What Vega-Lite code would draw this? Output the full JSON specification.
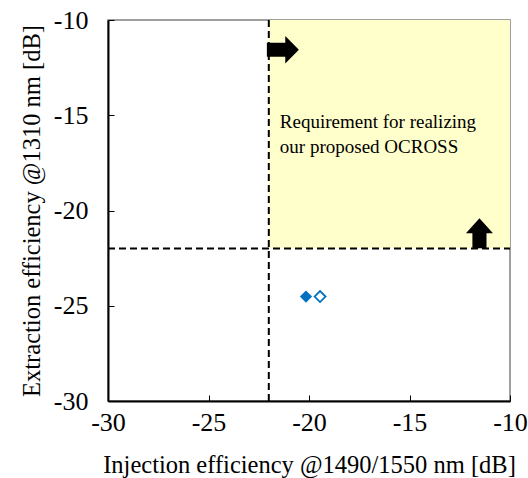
{
  "$schema": "https://vega.github.io/schema/vega-lite/v6.json",
  "autosize": "none",
  "width": 402,
  "height": 381,
  "padding": {"left": 108, "top": 20, "right": 18, "bottom": 77},
  "background": "white",
  "config": {
    "font": "Liberation Serif",
    "view": {"stroke": "#808080", "strokeWidth": 1.5},
    "axis": {"grid": false, "domainColor": "black", "domainWidth": 2, "tickColor": "black", "tickWidth": 1, "labelColor": "black", "titleColor": "black", "labelFont": "Liberation Serif", "titleFont": "Liberation Serif", "titleFontWeight": "normal", "labelFontSize": 26, "titleFontSize": 24.5}
  },
  "datasets": {
    "points": [
      {"inj": -20.15, "ext": -24.52, "type": "filled"},
      {"inj": -19.45, "ext": -24.52, "type": "open"}
    ],
    "region": [{"x1": -22, "x2": -10, "y1": -22, "y2": -10}],
    "vline": [{"x": -22, "y1": -30, "y2": -10}],
    "hline": [{"y": -22, "x1": -30, "x2": -10}],
    "arrows": [
      {"x": -21.3, "y": -11.56, "dir": "right"},
      {"x": -11.52, "y": -21.2, "dir": "up"}
    ],
    "labels": [
      {"x": -21.45, "y": -15.67, "text": "Requirement for realizing"},
      {"x": -21.45, "y": -16.98, "text": "our proposed OCROSS"}
    ]
  },
  "layer": [
    {
      "data": {"name": "region"},
      "mark": {"type": "rect", "color": "#FFFFCC"},
      "encoding": {
        "x": {"field": "x1", "type": "quantitative", "scale": {"domain": [-30, -10], "nice": false, "zero": false},
          "axis": {"title": "Injection efficiency @1490/1550 nm [dB]", "values": [-30, -25, -20, -15, -10], "labelExpr": "'' + datum.value", "tickSize": -6, "labelPadding": 14, "titlePadding": 18, "labelFlush": false}},
        "x2": {"field": "x2"},
        "y": {"field": "y1", "type": "quantitative", "scale": {"domain": [-30, -10], "nice": false, "zero": false},
          "axis": {"title": "Extraction efficiency @1310 nm [dB]", "values": [-30, -25, -20, -15, -10], "labelExpr": "'' + datum.value", "tickSize": -6, "labelPadding": 26, "titlePadding": 9, "labelFlush": false}},
        "y2": {"field": "y2"}
      }
    },
    {
      "data": {"name": "vline"},
      "mark": {"type": "rule", "color": "black", "strokeWidth": 2, "strokeDash": [7, 4]},
      "encoding": {
        "x": {"field": "x", "type": "quantitative"},
        "y": {"field": "y1", "type": "quantitative"},
        "y2": {"field": "y2"}
      }
    },
    {
      "data": {"name": "hline"},
      "mark": {"type": "rule", "color": "black", "strokeWidth": 2, "strokeDash": [7, 4]},
      "encoding": {
        "y": {"field": "y", "type": "quantitative"},
        "x": {"field": "x1", "type": "quantitative"},
        "x2": {"field": "x2"}
      }
    },
    {
      "data": {"name": "arrows"},
      "transform": [{"filter": "datum.dir === 'right'"}],
      "mark": {"type": "point", "filled": true, "color": "black", "opacity": 1, "size": 1024, "shape": "M-1,-0.44 L0.15,-0.44 L0.15,-0.86 L1,0 L0.15,0.86 L0.15,0.44 L-1,0.44 Z"},
      "encoding": {
        "x": {"field": "x", "type": "quantitative"},
        "y": {"field": "y", "type": "quantitative"}
      }
    },
    {
      "data": {"name": "arrows"},
      "transform": [{"filter": "datum.dir === 'up'"}],
      "mark": {"type": "point", "filled": true, "color": "black", "opacity": 1, "size": 900, "shape": "M-0.47,1 L-0.47,-0.0 L-0.9,-0.0 L0,-1 L0.9,-0.0 L0.47,-0.0 L0.47,1 Z"},
      "encoding": {
        "x": {"field": "x", "type": "quantitative"},
        "y": {"field": "y", "type": "quantitative"}
      }
    },
    {
      "data": {"name": "labels"},
      "mark": {"type": "text", "align": "left", "baseline": "alphabetic", "fontSize": 19, "font": "Liberation Serif", "color": "black"},
      "encoding": {
        "x": {"field": "x", "type": "quantitative"},
        "y": {"field": "y", "type": "quantitative"},
        "text": {"field": "text"}
      }
    },
    {
      "data": {"name": "points"},
      "transform": [{"filter": "datum.type === 'filled'"}],
      "mark": {"type": "point", "shape": "diamond", "filled": true, "color": "#0070C0", "opacity": 1, "size": 150},
      "encoding": {
        "x": {"field": "inj", "type": "quantitative"},
        "y": {"field": "ext", "type": "quantitative"}
      }
    },
    {
      "data": {"name": "points"},
      "transform": [{"filter": "datum.type === 'open'"}],
      "mark": {"type": "point", "shape": "diamond", "filled": false, "color": "#0070C0", "fill": "white", "strokeWidth": 1.8, "opacity": 1, "size": 120},
      "encoding": {
        "x": {"field": "inj", "type": "quantitative"},
        "y": {"field": "ext", "type": "quantitative"}
      }
    }
  ]
}
